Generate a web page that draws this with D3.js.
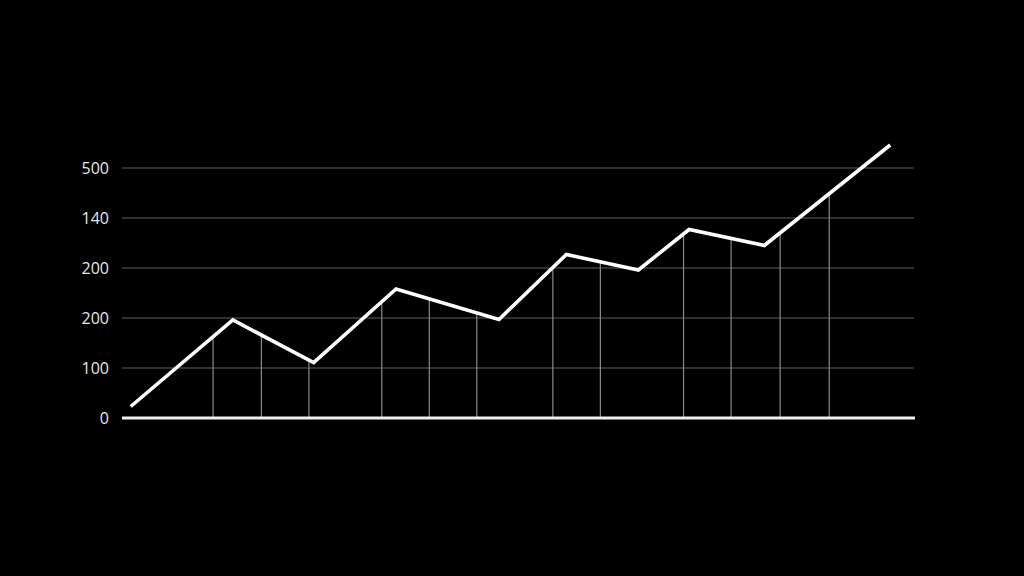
<!DOCTYPE html>
<html>
<head>
<meta charset="utf-8">
<script src="https://cdn.jsdelivr.net/npm/d3@7"></script>
<style>
  html, body { margin: 0; padding: 0; background: #000; }
  svg { display: block; }
</style>
</head>
<body>
<div id="chart"></div>
<script>
// data
var xVals = [1.1, 14.0, 24.2, 34.6, 47.6, 56.1, 65.2, 71.6, 81.1, 97.0];
var yVals = [23, 196, 111, 258, 197, 327, 296, 377, 345, 546];
var dropX = [11.5, 17.6, 23.6, 32.8, 38.8, 44.8, 54.4, 60.4, 70.9, 76.9, 83.1, 89.3];
var tickVals = [0, 100, 200, 300, 400, 500];
var tickLabels = ["0", "100", "200", "200", "140", "500"];

var svgWidth = 1024, svgHeight = 576;
var margin = { top: 168, right: 110, bottom: 158, left: 122 };
var chartWidth = svgWidth - margin.left - margin.right;
var chartHeight = svgHeight - margin.top - margin.bottom;

var svg = d3.select("#chart").append("svg")
  .attr("width", svgWidth)
  .attr("height", svgHeight)
  .style("background", "#000");

var chartGroup = svg.append("g")
  .attr("transform", `translate(${margin.left},${margin.top})`);

var x = d3.scaleLinear().domain([0, 100]).range([0, chartWidth]);
var y = d3.scaleLinear().domain([0, 500]).range([chartHeight, 0]);

// horizontal gridlines
chartGroup.append("g")
  .selectAll("line")
  .data(tickVals.slice(1))
  .enter()
  .append("line")
  .attr("x1", 0)
  .attr("x2", chartWidth)
  .attr("y1", d => y(d))
  .attr("y2", d => y(d))
  .attr("stroke", "#606060")
  .attr("stroke-width", 1.2);

// y value of the line at a given x (drop lines stop on the line)
function lineAt(xv) {
  for (var i = 0; i < xVals.length - 1; i++) {
    if (xv >= xVals[i] && xv <= xVals[i + 1]) {
      var t = (xv - xVals[i]) / (xVals[i + 1] - xVals[i]);
      return yVals[i] + t * (yVals[i + 1] - yVals[i]);
    }
  }
  return 0;
}

// vertical drop lines
chartGroup.append("g")
  .selectAll("line")
  .data(dropX)
  .enter()
  .append("line")
  .attr("x1", d => x(d))
  .attr("x2", d => x(d))
  .attr("y1", y(0))
  .attr("y2", d => y(lineAt(d)))
  .attr("stroke", "#8a8a8a")
  .attr("stroke-width", 1.2);

// y axis labels
var leftAxis = d3.axisLeft(y)
  .tickValues(tickVals)
  .tickSize(0)
  .tickPadding(13)
  .tickFormat((d, i) => tickLabels[i]);

var yAxis = chartGroup.append("g").call(leftAxis);
yAxis.select(".domain").remove();
yAxis.selectAll("text")
  .attr("fill", "#e6e6e6")
  .style("font-family", "'Open Sans', 'Noto Sans', sans-serif")
  .style("font-size", "16px");

// baseline
chartGroup.append("line")
  .attr("x1", 0)
  .attr("x2", chartWidth + 1)
  .attr("y1", y(0))
  .attr("y2", y(0))
  .attr("stroke", "#f0f0f0")
  .attr("stroke-width", 3);

// the line
var lineGen = d3.line()
  .x((d, i) => x(xVals[i]))
  .y(d => y(d));

chartGroup.append("path")
  .datum(yVals)
  .attr("d", lineGen)
  .attr("fill", "none")
  .attr("stroke", "#ffffff")
  .attr("stroke-width", 3.6)
  .attr("stroke-linejoin", "miter")
  .attr("stroke-linecap", "butt");
</script>
</body>
</html>
